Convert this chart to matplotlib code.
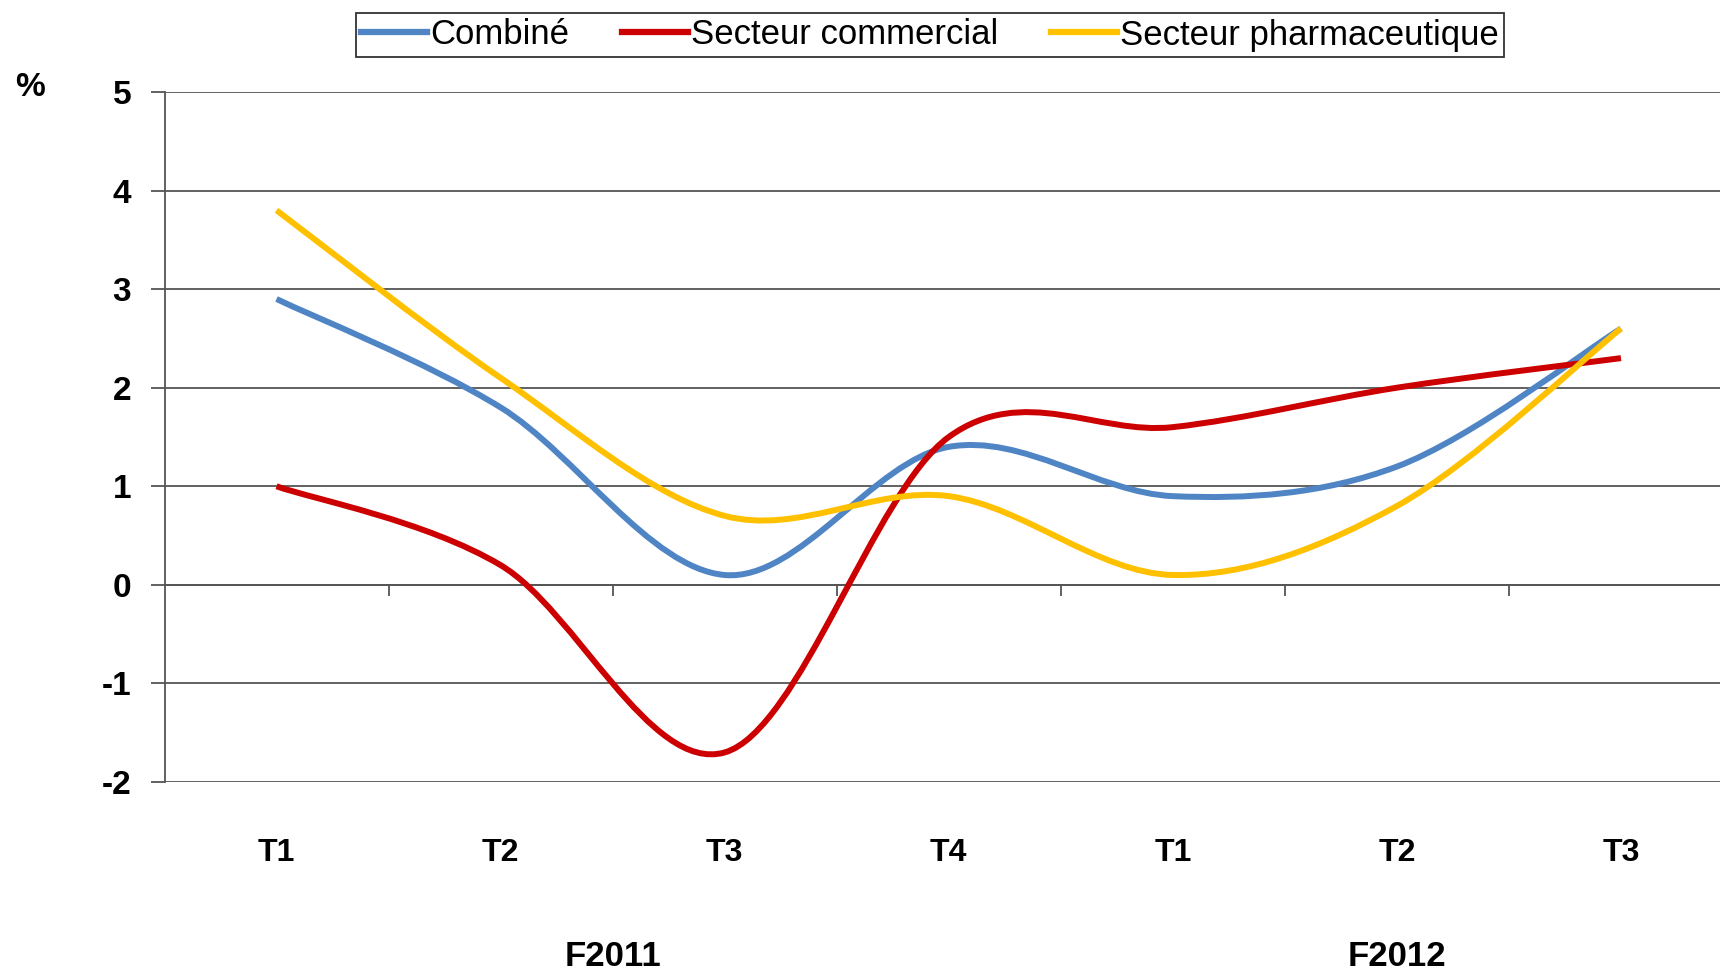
import matplotlib
matplotlib.use("Agg")
import matplotlib.pyplot as plt
from matplotlib.path import Path
from matplotlib.patches import PathPatch
from matplotlib.lines import Line2D
import matplotlib.transforms as mtransforms

categories = ["T1", "T2", "T3", "T4", "T1", "T2", "T3"]
years = ["F2011", "F2012"]
year_centers = [1.5, 5.0]
combine = [2.9, 1.8, 0.1, 1.4, 0.9, 1.2, 2.6]
commercial = [1.0, 0.2, -1.7, 1.5, 1.6, 2.0, 2.3]
pharma = [3.8, 2.1, 0.7, 0.9, 0.1, 0.8, 2.6]
series = [("Combiné", combine, "#4F85C5"),
          ("Secteur commercial", commercial, "#CC0000"),
          ("Secteur pharmaceutique", pharma, "#FFC000")]
yticks = [-2, -1, 0, 1, 2, 3, 4, 5]

FONT = ["Liberation Sans", "DejaVu Sans"]
plt.rcParams['font.family'] = FONT

fig = plt.figure(figsize=(17.2, 9.74), dpi=100)
ax = fig.add_axes([164.5/1720, 192/974, (1733-164.5)/1720, (882-192)/974])
ax.set_xlim(-0.5, 6.5)
ax.set_ylim(-2, 5)


def smooth_path(xs, ys, t=1/6):
    verts = [(xs[0], ys[0])]
    codes = [Path.MOVETO]
    n = len(xs)
    for i in range(n - 1):
        x0, y0 = xs[max(i-1, 0)], ys[max(i-1, 0)]
        x1, y1 = xs[i], ys[i]
        x2, y2 = xs[i+1], ys[i+1]
        x3, y3 = xs[min(i+2, n-1)], ys[min(i+2, n-1)]
        c1 = (x1 + (x2 - x0) * t, y1 + (y2 - y0) * t)
        c2 = (x2 - (x3 - x1) * t, y2 - (y3 - y1) * t)
        verts += [c1, c2, (x2, y2)]
        codes += [Path.CURVE4] * 3
    return Path(verts, codes)

xs = list(range(len(categories)))
for name, vals, col in series:
    p = PathPatch(smooth_path(xs, vals), facecolor="none", edgecolor=col,
                  lw=4.3, capstyle="butt", joinstyle="round", zorder=3)
    ax.add_patch(p)

# grid & axes
ax.set_yticks(yticks)
ax.yaxis.grid(True, color="#555555", lw=1.3)
ax.set_axisbelow(True)
for s in ["top", "right"]:
    ax.spines[s].set_visible(False)
ax.spines["left"].set_color("#555555")
ax.spines["left"].set_linewidth(1.3)
ax.spines["bottom"].set_position(("data", 0))
ax.spines["bottom"].set_color("#555555")
ax.spines["bottom"].set_linewidth(1.3)
ax.set_xticks([0.5, 1.5, 2.5, 3.5, 4.5, 5.5])
ax.set_xticklabels([])
ax.tick_params(axis="x", direction="out", length=8, width=1.3, color="#555555")
ax.tick_params(axis="y", direction="out", length=10, width=1.3, color="#555555",
               labelsize=24, pad=14)
ax.set_yticklabels([str(v) for v in yticks], fontweight="bold")

trans = mtransforms.blended_transform_factory(ax.transData, fig.transFigure)
for i, c in enumerate(categories):
    ax.text(i, 1 - 853/974, c, transform=trans, ha="center", va="center",
            fontsize=23, fontweight="bold")
for yc, yr in zip(year_centers, years):
    ax.text(yc, 1 - 956/974, yr, transform=trans, ha="center", va="center",
            fontsize=25, fontweight="bold")

fig.text(30/1720, 1 - 88/974, "%", ha="center", va="center", fontsize=24,
         fontweight="bold")

handles = [Line2D([], [], color=col, lw=4.5) for _, _, col in series]
leg = fig.legend(handles, [s[0] for s in series], loc="center",
                 bbox_to_anchor=(930/1720, 1 - 35/974), ncol=3, fontsize=25,
                 frameon=True, fancybox=False, edgecolor="black",
                 handlelength=1.9, handletextpad=0.1, columnspacing=1.5,
                 borderpad=0.15, borderaxespad=0)
leg.get_frame().set_linewidth(1.3)

fig.savefig("out.png", dpi=100)
